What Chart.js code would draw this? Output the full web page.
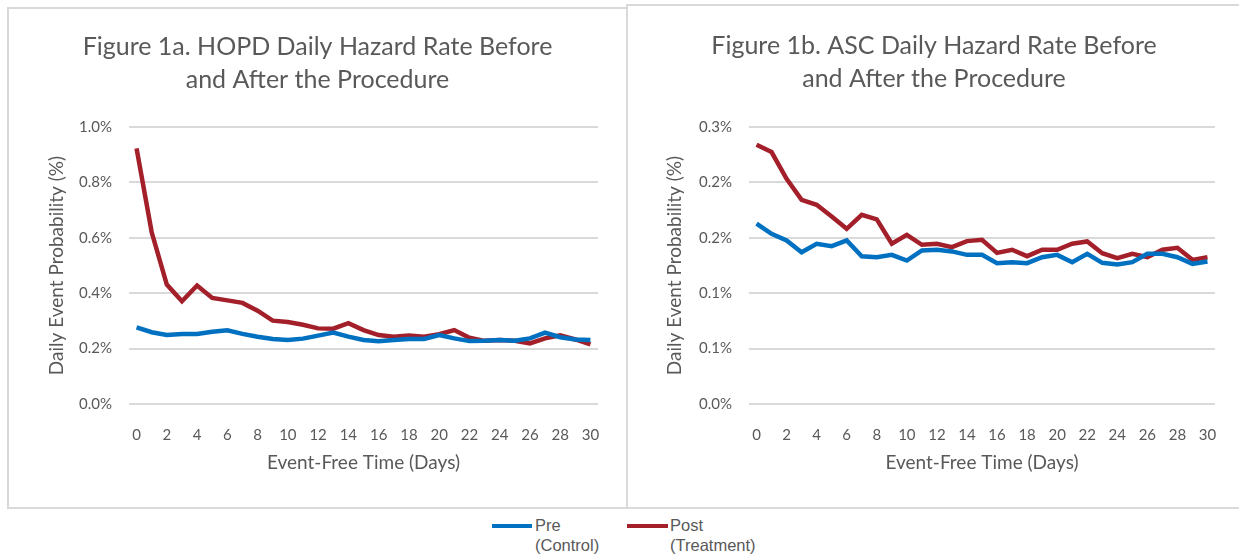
<!DOCTYPE html>
<html>
<head>
<meta charset="utf-8">
<script src="https://cdn.jsdelivr.net/npm/chart.js@4.4.1/dist/chart.umd.min.js"></script>
<style>
  html, body { margin: 0; padding: 0; background: #fff; }
  body { width: 1239px; height: 554px; position: relative; overflow: hidden; font-family: Lato, sans-serif; }
  .panel { position: absolute; border: 2px solid #d9d9d9; box-sizing: border-box; background: #fff; }
  .wrap { position: absolute; }
  .legend { position: absolute; top: 514px; left: 0; width: 1239px; height: 40px; font-family: "Liberation Sans", Arial, sans-serif; font-size: 16.5px; color: #595959; }
  .item { position: absolute; top: 1px; line-height: 20px; }
  .swatch { position: absolute; top: 10px; height: 3.5px; }
</style>
</head>
<body>
<div class="panel" style="left:7px; top:7px; width:621px; height:502px;"></div>
<div class="panel" style="left:626px; top:4px; width:640px; height:505px;"></div>
<div class="wrap" style="left:10px; top:10px; width:615px; height:496px;"><canvas id="chartA"></canvas></div>
<div class="wrap" style="left:629px; top:7px; width:610px; height:499px;"><canvas id="chartB"></canvas></div>
<div class="legend">
  <div class="swatch" style="left:492px; width:40px; background:#0070C0;"></div>
  <div class="item" style="left:535px;">Pre<br>(Control)</div>
  <div class="swatch" style="left:627px; width:41px; background:#A3202B;"></div>
  <div class="item" style="left:670px;">Post<br>(Treatment)</div>
</div>
<script>
// days after the procedure
const days = [0, 1, 2, 3, 4, 5, 6, 7, 8, 9, 10, 11, 12, 13, 14, 15, 16, 17, 18, 19, 20, 21, 22, 23, 24, 25, 26, 27, 28, 29, 30]

// Figure 1a - HOPD (percent)
const hopdPre = [0.277, 0.259, 0.249, 0.253, 0.253, 0.261, 0.266, 0.253, 0.243, 0.235, 0.231, 0.236, 0.247, 0.258, 0.243, 0.231,
  0.227, 0.231, 0.235, 0.235, 0.249, 0.237, 0.227, 0.228, 0.231, 0.228, 0.237, 0.258, 0.241, 0.233, 0.231]
const hopdPost = [0.923, 0.62, 0.431, 0.371, 0.428, 0.383, 0.374, 0.365, 0.337, 0.301, 0.296, 0.286, 0.273, 0.272, 0.292, 0.267,
  0.249, 0.243, 0.247, 0.243, 0.252, 0.267, 0.239, 0.228, 0.231, 0.228, 0.219, 0.237, 0.248, 0.233, 0.215]

// Figure 1b - ASC (percent)
const ascPre = [0.1627, 0.1536, 0.1476, 0.137, 0.1446, 0.1425, 0.1476, 0.1334, 0.1325, 0.1346, 0.1295, 0.1386, 0.1392, 0.1377, 0.1346, 0.1346,
  0.1271, 0.128, 0.1271, 0.1325, 0.1346, 0.128, 0.1355, 0.1274, 0.1259, 0.128, 0.1355, 0.1355, 0.1325, 0.1265, 0.1286]
const ascPost = [0.234, 0.2274, 0.2033, 0.1843, 0.1798, 0.1693, 0.1581, 0.1708, 0.1666, 0.1446, 0.1527, 0.1437, 0.1446, 0.1416, 0.147, 0.1482,
  0.1364, 0.1392, 0.1334, 0.1392, 0.1392, 0.1446, 0.1467, 0.1361, 0.1316, 0.1355, 0.1325, 0.1392, 0.141, 0.1301, 0.1325]

// tick labels as printed in the figure
const hopdTickLabels = ['0.0%', '0.2%', '0.4%', '0.6%', '0.8%', '1.0%']
const ascTickLabels = ['0.0%', '0.1%', '0.1%', '0.2%', '0.2%', '0.3%']

const textColor = '#595959'
const gridColor = '#d9d9d9'
const preColor = '#0070C0'
const postColor = '#A3202B'

function makeChart(id, opts) {
  const ctx = document.getElementById(id).getContext('2d')
  return new Chart(ctx, {
    type: 'line',
    data: {
      labels: days,
      datasets: [
        { label: 'Pre (Control)', data: opts.pre, borderColor: preColor, borderWidth: 4.5, pointRadius: 0, tension: 0 },
        { label: 'Post (Treatment)', data: opts.post, borderColor: postColor, borderWidth: 4.5, pointRadius: 0, tension: 0 }
      ]
    },
    options: {
      responsive: true,
      maintainAspectRatio: false,
      animation: false,
      // same padding both sides so the title stays centred on the panel
      layout: { padding: { left: opts.pad, right: opts.pad } },
      plugins: {
        legend: { display: false },
        tooltip: { enabled: false },
        title: {
          display: true,
          text: opts.title,
          color: textColor,
          font: { family: 'Lato', size: 25, weight: 'normal', lineHeight: 1.32 },
          padding: { top: opts.titleTop, bottom: opts.titleBottom }
        }
      },
      scales: {
        x: {
          offset: true,
          grid: { display: false },
          border: { display: false },
          ticks: {
            color: textColor,
            font: { family: 'Lato', size: 15 },
            autoSkip: false,
            maxRotation: 0,
            padding: 14,
            callback: function(value, index) {
              return index % 2 === 0 ? String(days[index]) : ''
            }
          },
          title: {
            display: true,
            text: 'Event-Free Time (Days)',
            color: textColor,
            font: { family: 'Lato', size: 19 },
            padding: { top: 0, bottom: 31.5 }
          },
          afterFit: function(scale) { scale.height = 102 }
        },
        y: {
          min: 0,
          max: opts.max,
          grid: { color: gridColor, lineWidth: 2, drawTicks: false },
          border: { display: false },
          ticks: {
            stepSize: opts.step,
            color: textColor,
            font: { family: 'Lato', size: 15 },
            padding: 17,
            callback: function(value, index) {
              return opts.tickLabels[index]
            }
          },
          title: {
            display: true,
            text: 'Daily Event Probability (%)',
            color: textColor,
            font: { family: 'Lato', size: 19 },
            padding: { top: opts.yTitleTop, bottom: 0 }
          },
          afterFit: function(scale) { scale.width = opts.yWidth }
        }
      }
    }
  })
}

makeChart('chartA', {
  pre: hopdPre,
  post: hopdPost,
  title: ['Figure 1a. HOPD Daily Hazard Rate Before', 'and After the Procedure'],
  titleTop: 20,
  titleBottom: 31,
  max: 1.0,
  step: 0.2,
  tickLabels: hopdTickLabels,
  yWidth: 92,
  yTitleTop: 8.5,
  pad: 27
})

makeChart('chartB', {
  pre: ascPre,
  post: ascPost,
  title: ['Figure 1b. ASC Daily Hazard Rate Before', 'and After the Procedure'],
  titleTop: 22,
  titleBottom: 32,
  max: 0.25,
  step: 0.05,
  tickLabels: ascTickLabels,
  yWidth: 96,
  yTitleTop: 10.5,
  pad: 24
})
</script>
</body>
</html>
